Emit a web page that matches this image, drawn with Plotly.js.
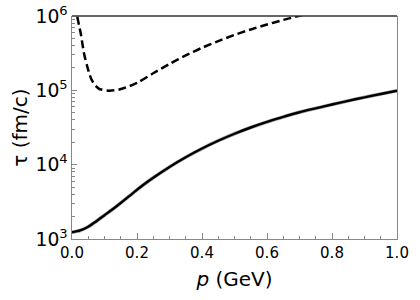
<!DOCTYPE html>
<html>
<head>
<meta charset="utf-8">
<script src="https://cdn.plot.ly/plotly-3.0.1.min.js"></script>
<style>html,body{margin:0;padding:0;background:#fff;}#chart{width:420px;height:300px;}</style>
</head>
<body>
<div id="chart"></div>
<script>
// Solid curve: tau vs p
const pSolid = [0, 0.025, 0.05, 0.075, 0.1, 0.125, 0.15, 0.175, 0.2, 0.225, 0.25, 0.3, 0.35, 0.4, 0.45, 0.5, 0.55, 0.6, 0.65, 0.7, 0.75, 0.8, 0.85, 0.9, 0.95, 1.0];
const tauSolid = [1230, 1303, 1462, 1738, 2089, 2512, 3055, 3741, 4592, 5585, 6683, 9333, 12589, 16482, 20989, 26062, 31623, 37584, 43853, 50699, 57280, 64417, 72277, 80538, 89331, 98628];

// Dashed curve: tau vs p
const pDashed = [0.012, 0.0163, 0.0268, 0.0369, 0.047, 0.0606, 0.081, 0.112, 0.148, 0.2, 0.25, 0.3, 0.35, 0.4, 0.45, 0.5, 0.55, 0.6, 0.65, 0.7, 0.75];
const tauDashed = [1.41e6, 9.77e5, 5.85e5, 3.16e5, 2.09e5, 1.38e5, 1.064e5, 9.89e4, 1.033e5, 1.259e5, 1.698e5, 2.265e5, 2.951e5, 3.733e5, 4.603e5, 5.559e5, 6.592e5, 7.691e5, 8.851e5, 1.007e6, 1.135e6];

const xTickVals = [0, 0.2, 0.4, 0.6, 0.8, 1.0];
const xTickText = ['0.0', '0.2', '0.4', '0.6', '0.8', '1.0'];

const font = 'DejaVu Sans, sans-serif';

const traces = [
  {x: pSolid, y: tauSolid, mode: 'lines', line: {color: '#a8a8a8', width: 3.6, shape: 'spline', smoothing: 0.8}, hoverinfo: 'skip'},
  {x: pSolid, y: tauSolid, mode: 'lines', line: {color: '#000', width: 2.4, shape: 'spline', smoothing: 0.8}},
  {x: pDashed, y: tauDashed, mode: 'lines', line: {color: '#000', width: 2.5, dash: '8px,4px', shape: 'spline', smoothing: 0.8}}
];

const layout = {
  width: 420, height: 300,
  margin: {l: 72, r: 23, t: 16, b: 61},
  paper_bgcolor: '#fff', plot_bgcolor: '#fff',
  showlegend: false,
  font: {family: font, color: '#000', size: 15},
  xaxis: {
    range: [0, 1], tickvals: xTickVals, ticktext: xTickText,
    ticks: 'inside', ticklen: 6, tickwidth: 1, tickcolor: '#888',
    showline: true, linecolor: '#888', linewidth: 1.3, mirror: false,
    showgrid: false, zeroline: false,
    tickfont: {family: font, size: 15, color: '#000'},
    minor: {ticks: 'inside', dtick: 0.05, ticklen: 3.5, tickcolor: '#888', tickwidth: 1, showgrid: false},
    title: {text: '<i>p</i> (GeV)', font: {family: font, size: 20, color: '#000'}, standoff: 10}
  },
  yaxis: {
    type: 'log', range: [3, 6], dtick: 1, exponentformat: 'power',
    ticks: 'inside', ticklen: 5, tickwidth: 1, tickcolor: '#888',
    showline: true, linecolor: '#888', linewidth: 1.3, mirror: true,
    showgrid: false, zeroline: false,
    tickfont: {family: font, size: 15, color: '#000'},
    minor: {ticks: 'inside', dtick: 'D1', ticklen: 3, tickcolor: '#888', tickwidth: 1, showgrid: false},
    title: {text: 'τ (fm/c)', font: {family: font, size: 20, color: '#000'}, standoff: 2}
  },
  shapes: [
    {type: 'line', xref: 'paper', yref: 'paper', x0: 0, x1: 1, y0: 1, y1: 1, line: {color: '#333', width: 1.3}}
  ]
};

Plotly.newPlot('chart', traces, layout, {staticPlot: true, displayModeBar: false});
</script>
</body>
</html>
